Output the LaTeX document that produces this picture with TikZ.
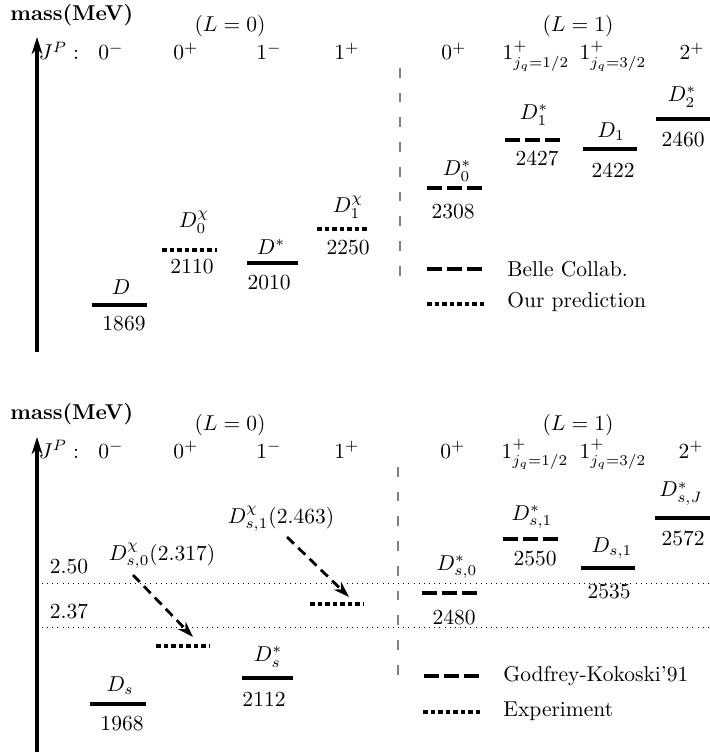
\documentclass[tikz,border=0pt]{standalone}
\usepackage{amsmath,amssymb}
\usepackage{tikz}
\usetikzlibrary{arrows.meta,positioning}
\tikzset{
  lvl/.style={line width=1.5pt},
  lvlgk/.style={line width=1.5pt, dash pattern=on 7pt off 2.3pt},
  lvlexp/.style={line width=1.5pt, dash pattern=on 2.2pt off 1.3pt},
  sep/.style={draw=gray, line width=0.5pt, dash pattern=on 4.5pt off 7pt},
  refline/.style={line width=0.4pt, dotted},
  massaxis/.style={-{Stealth[length=8pt,width=5pt]}, line width=1.5pt},
  shiftarr/.style={-{Stealth[length=7.5pt,width=5pt]}, line width=1.3pt, dash pattern=on 4.5pt off 2.8pt},
  hdr/.style={anchor=base, inner sep=0pt},
  lab/.style={inner sep=0pt},
}

\begin{document}
\begin{tikzpicture}[x=0.465pt, y=-0.465pt]
  \useasboundingbox (0,0) rectangle (710,753);

  % ---- upper panel: D mesons
  \coordinate (axbot) at (37,352);
  \coordinate (axtop) at (37,37);
  \draw[massaxis] (axbot) -- (axtop);
  \node[hdr, anchor=base west] (mass) at (10,21) {\textbf{mass(MeV)}};
  \node[hdr] (lzero) at (230,32) {$(L=0)$};
  \node[hdr] (lone) at (578,32) {$(L=1)$};
  \node[hdr] (jp) at (59,60) {$J^P:$};
  \node[hdr] (hA) at (111,60) {$0^-$};
  \node[hdr] (hB) at (186,60) {$0^+$};
  \node[hdr] (hC) at (269,60) {$1^-$};
  \node[hdr] (hD) at (347,60) {$1^+$};
  \node[hdr] (hE) at (454,60) {$0^+$};
  \node[hdr] (hF) at (536,60) {$1^+_{j_q=1/2}$};
  \node[hdr] (hG) at (613,60) {$1^+_{j_q=3/2}$};
  \node[hdr] (hH) at (692,60) {$2^+$};
  \coordinate (septop) at (400,68);
  \coordinate (sepbot) at (400,288);
  \draw[sep] (septop) -- (sepbot);

  \draw[lvl] (92,305) -- (147,305);
  \node[lab] (d) at (121,287) {$D$};
  \node[lab] (dval) at (124,324) {1869};
  \draw[lvlexp] (162,250) -- (217,250);
  \node[lab] (dzchi) at (194,222) {$D_0^{\chi}$};
  \node[lab] (dzchival) at (192,267) {2110};
  \draw[lvl] (247,263) -- (298,263);
  \node[lab] (dst) at (271,247) {$D^*$};
  \node[lab] (dstval) at (269,283) {2010};
  \draw[lvlexp] (317,229) -- (369,229);
  \node[lab] (donechi) at (348,207) {$D_1^{\chi}$};
  \node[lab] (donechival) at (348,248) {2250};
  \draw[lvlgk] (427,188) -- (482,188);
  \node[lab] (dzst) at (457,171) {$D_0^*$};
  \node[lab] (dzstval) at (453,212) {2308};
  \draw[lvlgk] (505,140) -- (560,140);
  \node[lab] (donest) at (534,115) {$D_1^*$};
  \node[lab] (donestval) at (537,158) {2427};
  \draw[lvl] (583,149) -- (637,149);
  \node[lab] (done) at (611,132) {$D_1$};
  \node[lab] (doneval) at (613,170) {2422};
  \draw[lvl] (656,119) -- (710,119);
  \node[lab] (dtwost) at (682,97) {$D_2^*$};
  \node[lab] (dtwostval) at (683,139) {2460};

  \draw[lvlgk] (427,269) -- (485,269);
  \node[lab, anchor=west] (belle) at (507,269) {Belle Collab.};
  \draw[lvlexp] (427,304) -- (487,304);
  \node[lab, anchor=west] (ours) at (507,302) {Our prediction};

  % ---- lower panel: D_s mesons
  \coordinate (axbotb) at (37,752);
  \coordinate (axtopb) at (37,437);
  \draw[massaxis] (axbotb) -- (axtopb);
  \node[hdr, anchor=base west] (massb) at (10,419) {\textbf{mass(MeV)}};
  \node[hdr] (lzerob) at (230,430) {$(L=0)$};
  \node[hdr] (loneb) at (578,430) {$(L=1)$};
  \node[hdr] (jpb) at (59,458) {$J^P:$};
  \node[hdr] (hAb) at (111,458) {$0^-$};
  \node[hdr] (hBb) at (186,458) {$0^+$};
  \node[hdr] (hCb) at (269,458) {$1^-$};
  \node[hdr] (hDb) at (347,458) {$1^+$};
  \node[hdr] (hEb) at (453,458) {$0^+$};
  \node[hdr] (hFb) at (535,458) {$1^+_{j_q=1/2}$};
  \node[hdr] (hGb) at (613,458) {$1^+_{j_q=3/2}$};
  \node[hdr] (hHb) at (691,458) {$2^+$};
  \coordinate (septopb) at (398,467);
  \coordinate (sepbotb) at (398,686);
  \draw[sep] (septopb) -- (sepbotb);

  \draw[refline] (42,583) -- (710,583);
  \draw[refline] (42,627) -- (710,627);
  \node[lab] (rfive) at (69,567) {2.50};
  \node[lab] (rthree) at (69,611) {2.37};

  \draw[lvl] (90,704) -- (146,704);
  \node[lab] (ds) at (120,686) {$D_s$};
  \node[lab] (dsval) at (122,724) {1968};
  \draw[lvlexp] (156,646) -- (210,646);
  \draw[lvl] (242,678) -- (293,678);
  \node[lab] (dsst) at (268,657) {$D_s^*$};
  \node[lab] (dsstval) at (264,699) {2112};
  \draw[lvlexp] (310,604) -- (364,604);
  \draw[lvlgk] (422,593) -- (477,593);
  \node[lab] (dszst) at (457,567) {$D_{s,0}^*$};
  \node[lab] (dszstval) at (454,617) {2480};
  \draw[lvlgk] (503,539) -- (558,539);
  \node[lab] (dsonest) at (532,517) {$D_{s,1}^*$};
  \node[lab] (dsonestval) at (535,559) {2550};
  \draw[lvl] (581,568) -- (635,568);
  \node[lab] (dsone) at (612,548) {$D_{s,1}$};
  \node[lab] (dsoneval) at (609,592) {2535};
  \draw[lvl] (655,518) -- (710,518);
  \node[lab] (dsj) at (681,494) {$D_{s,J}^*$};
  \node[lab] (dsjval) at (683,538) {2572};

  \node[lab] (dszchi) at (162,556) {$D^{\chi}_{s,0}(2.317)$};
  \node[lab] (dsonechi) at (281,519) {$D^{\chi}_{s,1}(2.463)$};
  \coordinate (fromzero) at (133,575);
  \coordinate (tozero) at (193,637);
  \coordinate (fromone) at (287,537);
  \coordinate (toone) at (349,597);
  \draw[shiftarr] (fromzero) -- (tozero);
  \draw[shiftarr] (fromone) -- (toone);

  \draw[lvlgk] (424,676) -- (483,676);
  \node[lab, anchor=west] (gk) at (503,676) {Godfrey-Kokoski'91};
  \draw[lvlexp] (423,712) -- (483,712);
  \node[lab, anchor=west] (expt) at (503,711) {Experiment};
\end{tikzpicture}
\end{document}
